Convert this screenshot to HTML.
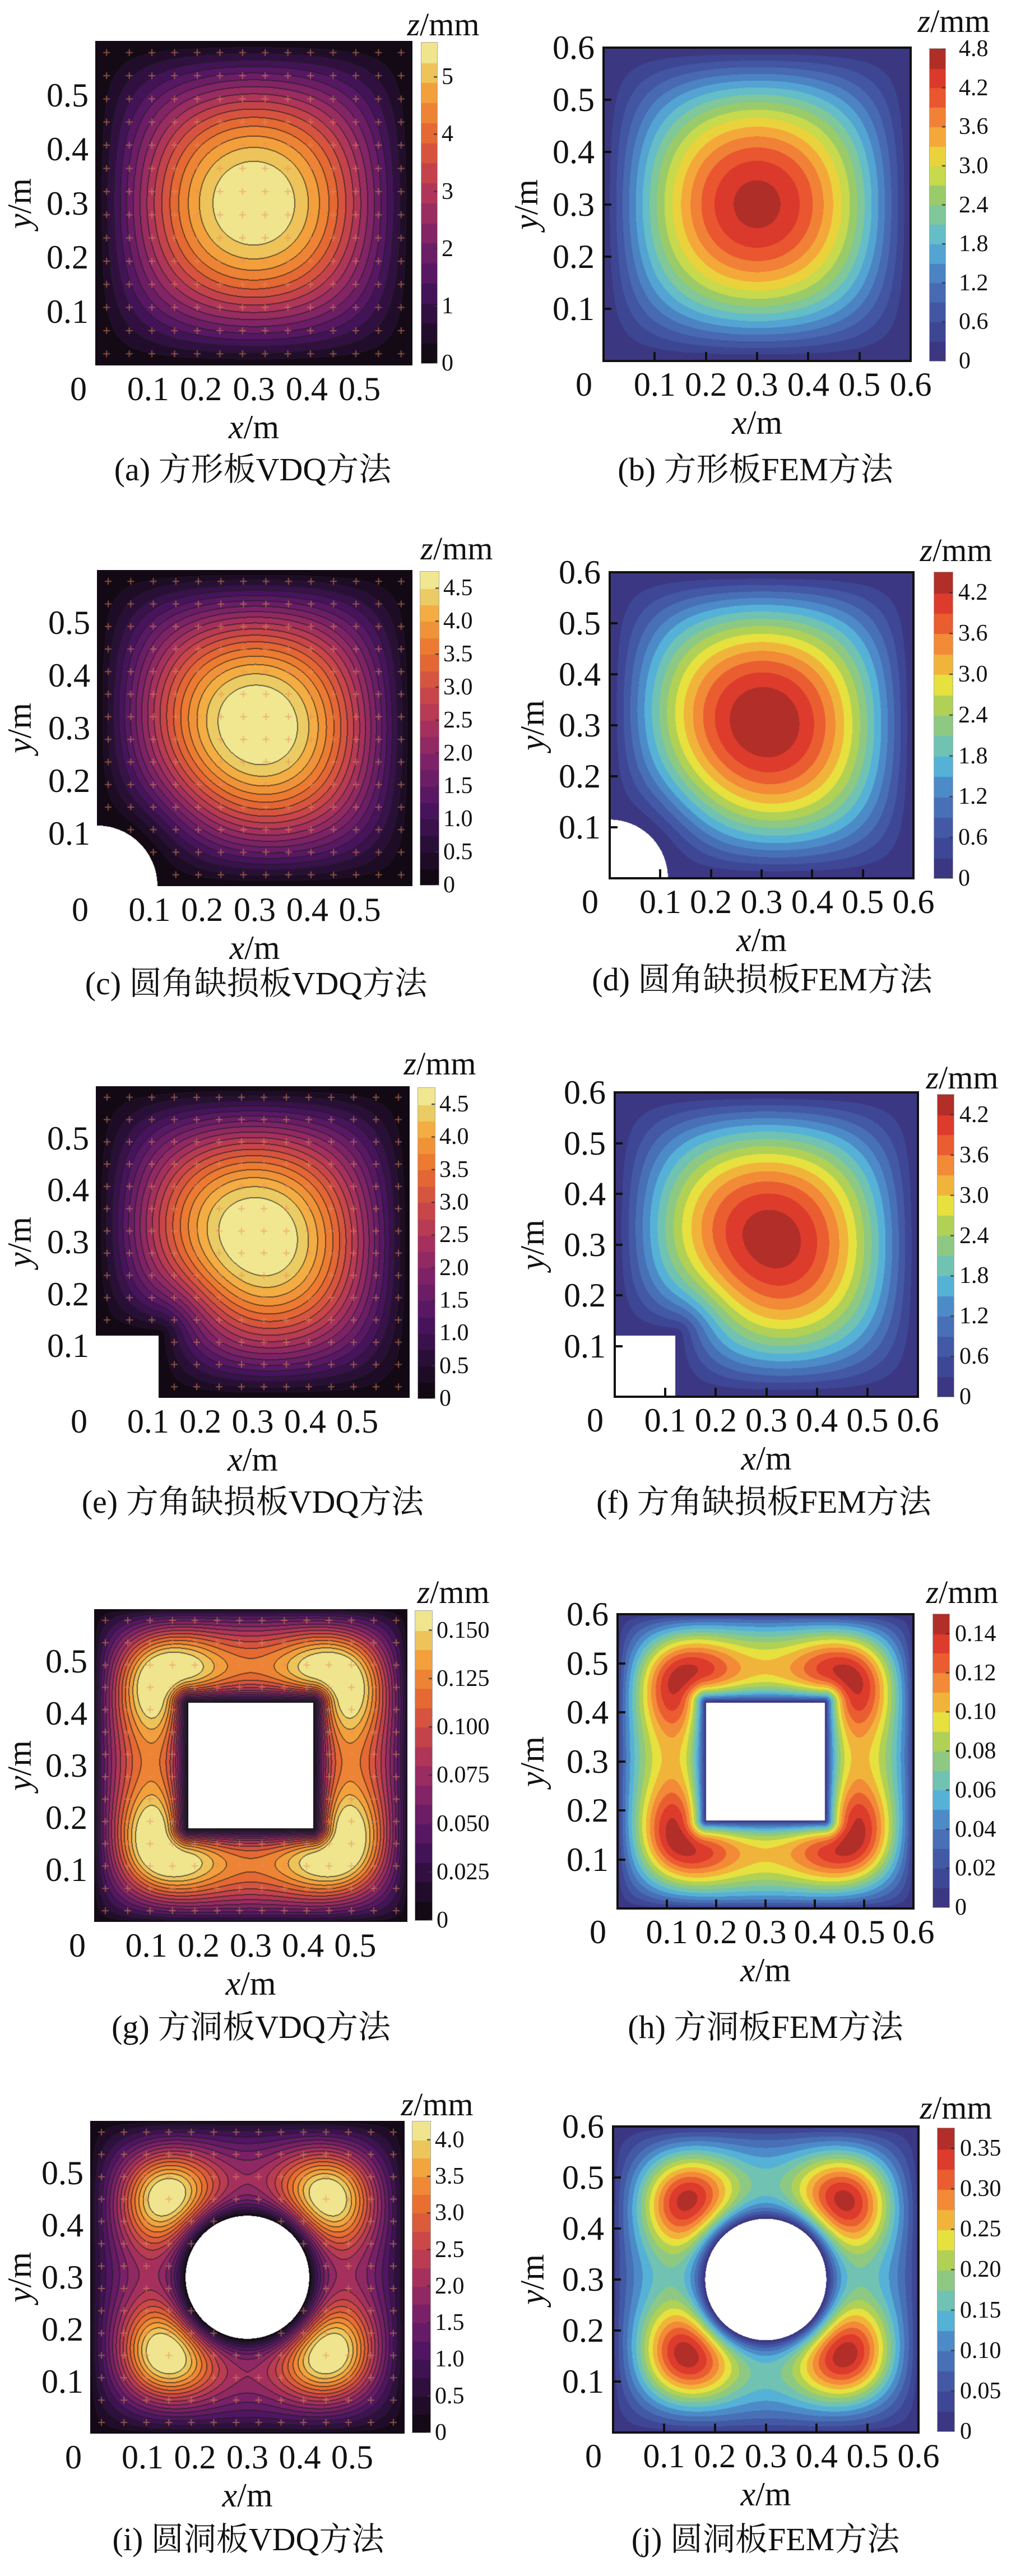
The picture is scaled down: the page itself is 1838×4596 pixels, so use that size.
<!DOCTYPE html>
<html><head><meta charset="utf-8">
<style>
html,body{margin:0;padding:0;background:#fff;}
body{width:1838px;height:4596px;position:relative;overflow:hidden;font-family:"Liberation Serif","Noto Serif CJK SC",serif;color:#111;}
.t{position:absolute;white-space:nowrap;line-height:1;}
canvas{position:absolute;}
.frame{position:absolute;box-sizing:border-box;border:4px solid #111;}
.tick{position:absolute;background:#111;}
</style></head>
<body>
<div id="root"></div>
<script>
// ---- data arrays ----
const ticksA=[0,1,2,3,4,5];            const labelsA=["0","1","2","3","4","5"];
const ticksB=[0,0.6,1.2,1.8,2.4,3.0,3.6,4.2,4.8]; const labelsB=["0","0.6","1.2","1.8","2.4","3.0","3.6","4.2","4.8"];
const ticksC=[0,0.5,1,1.5,2,2.5,3,3.5,4,4.5]; const labelsC=["0","0.5","1.0","1.5","2.0","2.5","3.0","3.5","4.0","4.5"];
const ticksD=[0,0.6,1.2,1.8,2.4,3.0,3.6,4.2]; const labelsD=["0","0.6","1.2","1.8","2.4","3.0","3.6","4.2"];
const ticksG=[0,0.025,0.05,0.075,0.1,0.125,0.15]; const labelsG=["0","0.025","0.050","0.075","0.100","0.125","0.150"];
const ticksH=[0,0.02,0.04,0.06,0.08,0.10,0.12,0.14]; const labelsH=["0","0.02","0.04","0.06","0.08","0.10","0.12","0.14"];
const ticksI=[0,0.5,1,1.5,2,2.5,3,3.5,4]; const labelsI=["0","0.5","1.0","1.5","2.0","2.5","3.0","3.5","4.0"];
const ticksJ=[0,0.05,0.1,0.15,0.2,0.25,0.3,0.35]; const labelsJ=["0","0.05","0.10","0.15","0.20","0.25","0.30","0.35"];
const axisVdq=[0.1,0.2,0.3,0.4,0.5];
const axisFem=[0.1,0.2,0.3,0.4,0.5,0.6];
const peaksSqHole=[[0.12,0.48],[0.48,0.48],[0.12,0.13],[0.48,0.13]];
const peaksCircHole=[[0.13,0.47],[0.47,0.47],[0.13,0.14],[0.47,0.14]];
const peaksNone=[];

const inferno=[[0,[14,8,12]],[0.12,[38,14,52]],[0.25,[76,20,98]],[0.38,[120,32,104]],[0.5,[165,48,94]],[0.62,[205,72,70]],[0.74,[234,112,46]],[0.86,[244,168,62]],[0.94,[232,214,110]],[1,[248,244,172]]];
const jet=[[0,[58,47,120]],[0.1,[61,71,149]],[0.2,[70,98,173]],[0.3,[76,139,200]],[0.38,[88,185,218]],[0.46,[124,198,160]],[0.55,[162,204,92]],[0.63,[229,227,62]],[0.72,[245,167,58]],[0.8,[239,117,53]],[0.87,[229,67,45]],[0.94,[210,48,42]],[1,[138,44,37]]];

const panels=[
 {id:'a',kind:'vdq',plot:[170,73,736,652],cb:[752,76,780,648],vmax:5.6,n:16,ticks:ticksA,labels:labelsA,cut:null,peaks:peaksNone,c0:1,ratio:1.02,zl:[791,44],cap:[451,838,'(a) 方形板VDQ方法'],yl:35,cbo:8},
 {id:'b',kind:'fem',plot:[1077,85,1625,644],cb:[1659,87,1687,644],vmax:4.8,n:16,ticks:ticksB,labels:labelsB,cut:null,peaks:peaksNone,c0:1,ratio:0.965,zl:[1702,38],cap:[1348,838,'(b) 方形板FEM方法'],yl:939,cbo:24},
 {id:'c',kind:'vdq',plot:[173,1017,736,1581],cb:[750,1020,783,1579],vmax:4.75,n:19,ticks:ticksC,labels:labelsC,cut:['qc',0.115],peaks:peaksNone,c0:1,ratio:1.03,zl:[815,979],cap:[457,1755,'(c) 圆角缺损板VDQ方法'],yl:35,cbo:8},
 {id:'d',kind:'fem',plot:[1088,1021,1630,1567],cb:[1667,1021,1700,1567],vmax:4.5,n:15,ticks:ticksD,labels:labelsD,cut:['qc',0.115],peaks:peaksNone,c0:1,ratio:1.0,zl:[1706,982],cap:[1360,1748,'(d) 圆角缺损板FEM方法'],yl:950,cbo:10},
 {id:'e',kind:'vdq',plot:[171,1938,731,2494],cb:[746,1941,776,2495],vmax:4.75,n:19,ticks:ticksC,labels:labelsC,cut:['qs',0.12],peaks:peaksNone,c0:1,ratio:1.03,zl:[785,1898],cap:[451,2680,'(e) 方角缺损板VDQ方法'],yl:35,cbo:8},
 {id:'f',kind:'fem',plot:[1097,1949,1638,2492],cb:[1673,1953,1702,2492],vmax:4.5,n:15,ticks:ticksD,labels:labelsD,cut:['qs',0.12],peaks:peaksNone,c0:1,ratio:0.98,zl:[1717,1923],cap:[1363,2680,'(f) 方角缺损板FEM方法'],yl:950,cbo:10},
 {id:'g',kind:'vdq',plot:[168,2871,727,3429],cb:[741,2874,771,3426],vmax:0.16,n:16,ticks:ticksG,labels:labelsG,cut:['hr',0.18,0.42],peaks:peaksSqHole,c0:1.1,ratio:1.1,zl:[809,2841],cap:[448,3617,'(g) 方洞板VDQ方法'],yl:35,cbo:8},
 {id:'h',kind:'fem',plot:[1102,2880,1630,3405],cb:[1665,2880,1694,3403],vmax:0.15,n:15,ticks:ticksH,labels:labelsH,cut:['hr',0.18,0.42],peaks:peaksSqHole,c0:1.1,ratio:0.98,zl:[1717,2841],cap:[1366,3617,'(h) 方洞板FEM方法'],yl:950,cbo:10},
 {id:'i',kind:'vdq',plot:[161,3784,722,4342],cb:[736,3785,768,4340],vmax:4.25,n:17,ticks:ticksI,labels:labelsI,cut:['hc',0.118],peaks:peaksCircHole,c0:0.55,ratio:1.06,zl:[780,3755],cap:[443,4531,'(i) 圆洞板VDQ方法'],yl:35,cbo:8},
 {id:'j',kind:'fem',plot:[1094,3794,1639,4340],cb:[1673,3797,1703,4338],vmax:0.375,n:15,ticks:ticksJ,labels:labelsJ,cut:['hc',0.119],peaks:peaksCircHole,c0:0.55,ratio:0.98,zl:[1706,3761],cap:[1366,4531,'(j) 圆洞板FEM方法'],yl:950,cbo:10}
];

const root=document.getElementById('root');
function cmap(m,t){t=Math.max(0,Math.min(1,t));for(let i=1;i<m.length;i++){if(t<=m[i][0]){const a=m[i-1],b=m[i];const f=(t-a[0])/(b[0]-a[0]);return [0,1,2].map(k=>Math.round(a[1][k]+(b[1][k]-a[1][k])*f));}}return m[m.length-1][1];}
function txt(x,y,html,size,tf,name,style){const d=document.createElement('div');d.className='t';d.style.left=x+'px';d.style.top=y+'px';d.style.fontSize=size+'px';d.style.transform=tf;if(style)d.style.cssText+=style;d.innerHTML=html;
 
 
 root.appendChild(d);return d;}

function inside(cut,x,y){if(!cut)return false;const k=cut[0];
 if(k==='qc')return Math.hypot(x,y)<cut[1];
 if(k==='qs')return x<cut[1]&&y<cut[1];
 if(k==='hr')return x>cut[1]&&x<cut[2]&&y>cut[1]&&y<cut[2];
 if(k==='hc')return Math.hypot(x-0.3,y-0.3)<cut[1];return false;}
function dist(cut,x,y){if(!cut)return Infinity;const k=cut[0];
 if(k==='qc')return Math.hypot(x,y)-cut[1];
 if(k==='qs'){const dx=Math.max(0,x-cut[1]),dy=Math.max(0,y-cut[1]);return (x<cut[1]||y<cut[1])?Math.min(x<cut[1]?dy:Infinity,y<cut[1]?dx:Infinity,Math.hypot(dx,dy)):Math.hypot(dx,dy);}
 if(k==='hr'){const dx=Math.max(cut[1]-x,0,x-cut[2]),dy=Math.max(cut[1]-y,0,y-cut[2]);return Math.hypot(dx,dy);}
 if(k==='hc')return Math.hypot(x-0.3,y-0.3)-cut[1];return Infinity;}
function field(P,x,y){
 let s=Math.sin(Math.PI*x/0.6)*Math.sin(Math.PI*y/0.6);
 const hole=P.cut&&(P.cut[0]==='hr'||P.cut[0]==='hc');
 if(hole)s=Math.pow(Math.max(s,0),0.6);
 const d=dist(P.cut,x,y);const lam=hole?0.04:0.08;
 const H=d===Infinity?1:1-Math.exp(-d/lam);
 let g=P.c0;for(const p of P.peaks){g+=Math.exp(-((x-p[0])**2+(y-p[1])**2)/(2*0.075*0.075));}
 return s*H*g;}

panels.forEach(P=>{
 const [x0,y0,x1,y1]=P.plot;const W=x1-x0,Hh=y1-y0;
 const cv=document.createElement('canvas');cv.width=W;cv.height=Hh;cv.style.left=x0+'px';cv.style.top=y0+'px';
 
 
 root.appendChild(cv);
 const ctx=cv.getContext('2d');const img=ctx.createImageData(W,Hh);
 const z=new Float32Array(W*Hh);const mask=new Uint8Array(W*Hh);let mx=0;
 for(let j=0;j<Hh;j++)for(let i=0;i<W;i++){const x=(i+0.5)/W*0.6,y=(1-(j+0.5)/Hh)*0.6;const k=j*W+i;
  if(inside(P.cut,x,y)){mask[k]=1;continue;}const v=field(P,x,y);z[k]=v;if(v>mx)mx=v;}
 const lev=new Int16Array(W*Hh);const m=P.kind==='vdq'?inferno:jet;
 for(let k=0;k<W*Hh;k++){const val=z[k]/mx*P.ratio;lev[k]=Math.min(P.n-1,Math.floor(val*P.n));}
 for(let j=0;j<Hh;j++)for(let i=0;i<W;i++){const k=j*W+i;let c;
  if(mask[k])c=[255,255,255];else{c=cmap(m,(lev[k]+0.5)/P.n);
   if(P.kind==='vdq'){let edge=false;
    for(const [di,dj] of [[1,0],[0,1],[-1,0],[0,-1]]){const ii=i+di,jj=j+dj;if(ii<0||jj<0||ii>=W||jj>=Hh)continue;const kk=jj*W+ii;if(!mask[kk]&&lev[kk]!==lev[k]&&lev[k]>0){edge=true;break;}}
    if(edge)c=c.map(v=>Math.round(v*0.35+20));}}
  img.data[k*4]=c[0];img.data[k*4+1]=c[1];img.data[k*4+2]=c[2];img.data[k*4+3]=255;}
 ctx.putImageData(img,0,0);
 if(P.kind==='vdq'){ctx.strokeStyle='rgba(235,140,95,0.55)';ctx.lineWidth=2;const n=14;
  for(let a=0;a<n;a++)for(let b=0;b<n;b++){const px=(a+0.5)/n*W,py=(b+0.5)/n*Hh;const x=(a+0.5)/n*0.6,y=(1-(b+0.5)/n)*0.6;if(inside(P.cut,x,y))continue;
   ctx.beginPath();ctx.moveTo(px-6,py);ctx.lineTo(px+6,py);ctx.moveTo(px,py-6);ctx.lineTo(px,py+6);ctx.stroke();}}
 if(P.kind==='fem'){const f=document.createElement('div');f.className='frame';f.style.cssText+=`left:${x0-2}px;top:${y0-2}px;width:${W+4}px;height:${Hh+4}px;`;
  
  
  root.appendChild(f);
  axisVdq.forEach(v=>{const ty=y1-v/0.6*Hh;const t=document.createElement('div');t.className='tick';t.style.cssText+=`left:${x0}px;top:${ty-2}px;width:14px;height:4px;`;
   
   
   root.appendChild(t);
   const tx=x0+v/0.6*W;const u=document.createElement('div');u.className='tick';u.style.cssText+=`left:${tx-2}px;top:${y1-16}px;width:4px;height:14px;`;
   
   
   root.appendChild(u);});}
 const yt=P.kind==='fem'?axisFem:axisVdq;const gap=P.kind==='fem'?16:12;
 yt.forEach(v=>{txt(x0-gap,y1-v/0.6*Hh,String(v),60,'translate(-100%,-50%)','y-tick-label');});
 yt.forEach(v=>{txt(x0+v/0.6*W,y1+12,String(v),60,'translate(-50%,0)','x-tick-label');});
 txt(x0-(P.kind==='fem'?35:30),y1+12,'0',60,'translate(-50%,0)','x-tick-label-zero');
 txt((x0+x1)/2,y1+110,'<i>x</i>/m',60,'translate(-50%,-50%)','x-axis-title');
 txt(P.yl,(y0+y1)/2,'<i>y</i>/m',60,'translate(-50%,-50%) rotate(-90deg)','y-axis-title');
 txt(P.zl[0],P.zl[1],'<i>z</i>/mm',58,'translate(-50%,-50%)','colorbar-title');
 txt(P.cap[0],P.cap[1],P.cap[2],58,'translate(-50%,-50%)','caption-'+P.id,'font-family:"Liberation Serif","Noto Serif CJK SC",serif;');
 const [c0,d0,c1,d1]=P.cb;const cw=c1-c0,ch=d1-d0;
 const cc=document.createElement('canvas');cc.width=cw;cc.height=ch;cc.style.left=c0+'px';cc.style.top=d0+'px';cc.style.outline='1px solid #aaa';
 
 
 root.appendChild(cc);
 const cx=cc.getContext('2d');
 for(let i=0;i<P.n;i++){const c=cmap(m,(i+0.5)/P.n);cx.fillStyle=`rgb(${c})`;const ya=ch-(i+1)/P.n*ch,yb=ch-i/P.n*ch;cx.fillRect(0,Math.floor(ya),cw,Math.ceil(yb-ya)+1);}
 P.ticks.forEach((v,i)=>{const ty=d1-v/P.vmax*ch;cx.fillStyle='#333';cx.fillRect(cw-6,ty-d0-1,6,2);
  txt(c1+P.cbo,ty,P.labels[i],42,'translate(0,-50%)','colorbar-tick-label');});
});
</script>
</body></html>
